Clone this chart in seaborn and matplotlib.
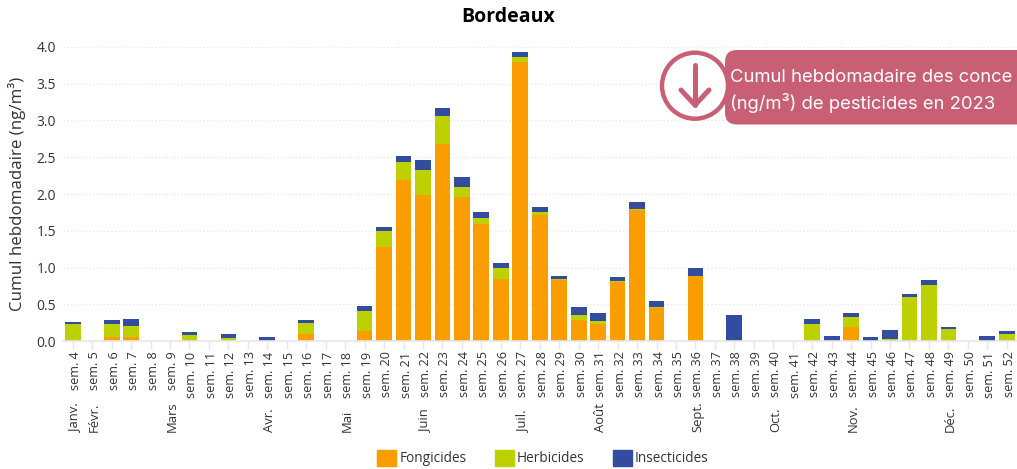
import numpy as np
import pandas as pd
import seaborn as sns
import matplotlib.pyplot as plt
from matplotlib.patches import Patch, Circle, FancyBboxPatch
from matplotlib.lines import Line2D
from matplotlib.transforms import ScaledTranslation

# weeks 4 to 52
weeks = [f"sem. {w}" for w in range(4, 53)]

fongicides = [0, 0, .05, .05, 0, 0, 0, 0, 0, 0, 0, 0, .09, 0, 0, .13, 1.28, 2.19, 1.99, 2.685,
              1.96, 1.59, .85, 3.80, 1.72, .83, .28, .23, .80, 1.78, .445, 0, .89, 0, 0, 0,
              0, 0, 0, 0, .195, 0, 0, 0, 0, 0, 0, 0, 0]
herbicides = [.23, 0, .18, .16, 0, 0, .08, 0, .04, 0, 0, 0, .15, 0, 0, .28, .21, .24, .33, .37,
              .14, .09, .14, .07, .04, .01, .07, .04, .01, .015, .02, 0, 0, 0, 0, 0,
              0, 0, .23, 0, .13, 0, .03, .595, .765, .16, 0, 0, .09]
insecticides = [.03, 0, .055, .09, 0, 0, .04, 0, .05, 0, .06, 0, .045, 0, 0, .065, .065, .09, .14, .11,
                .13, .08, .07, .06, .06, .05, .11, .105, .06, .095, .08, 0, .11, 0, .36, 0,
                0, 0, .065, .07, .06, .055, .115, .04, .06, .025, 0, .07, .045]

month_labels = ["Janv.", "Févr.", "Mars", "Avr.", "Mai", "Juin", "Juil.", "Août", "Sept.", "Oct.", "Nov.", "Déc."]
month_weeks = [4, 5, 9, 14, 18, 22, 27, 31, 36, 40, 44, 49]

ORANGE = "#F99D00"
GREEN = "#BDD000"
BLUE = "#324C9F"
PINK = "#C95F75"
TEXT = "#333333"

W, H = 1017, 469


def px(x, y):
    # pixel position from top left -> figure fraction
    return x / W, 1 - y / H


def main():
    sns.set_theme(style="white")
    plt.rcParams['font.family'] = ['Open Sans', 'DejaVu Sans']

    df = pd.DataFrame({"week": weeks, "f": fongicides, "h": herbicides, "i": insecticides})
    df["fh"] = df["f"] + df["h"]
    df["total"] = df["fh"] + df["i"]

    fig = plt.figure(figsize=(W / 100, H / 100), dpi=100)
    ax = fig.add_axes([63 / W, 1 - 341 / H, (1016.5 - 63) / W, 294 / H])

    # stacked by drawing the cumulated bars back to front
    for col, color in [("total", BLUE), ("fh", GREEN), ("f", ORANGE)]:
        sns.barplot(data=df, x="week", y=col, color=color, saturation=1, width=0.81, linewidth=0, ax=ax)

    ax.set_xlim(-0.5, 48.5)
    ax.set_ylim(0, 4)
    ax.set_yticks(np.arange(0, 4.5, 0.5))
    ax.set_axisbelow(True)
    ax.grid(axis="y", color="#e8e8e8", linestyle=":", linewidth=1)
    sns.despine(ax=ax, left=True)
    ax.spines["bottom"].set_color("#e6e6e6")
    ax.spines["bottom"].set_linewidth(1.2)

    ax.set_xlabel("")
    ax.set_ylabel("Cumul hebdomadaire (ng/m³)", fontsize=12.2, color=TEXT)
    ax.yaxis.set_label_coords((26 - 63) / (1016.5 - 63), 0.5)
    ax.tick_params(axis="y", length=0, labelsize=10, labelcolor=TEXT, pad=5)
    ax.tick_params(axis="x", bottom=True, length=5.5, width=1, color="#e6e6e6", labelsize=9.1, labelcolor=TEXT, pad=2)
    shift = ScaledTranslation(2.5 / 100, 0, fig.dpi_scale_trans)
    for lab in ax.get_xticklabels():
        lab.set_rotation(90)
        lab.set_ha("center")
        lab.set_transform(lab.get_transform() + shift)

    for name, wk in zip(month_labels, month_weeks):
        ax.annotate(name, xy=(wk - 4, 0), xycoords=ax.get_xaxis_transform(), xytext=(2, -91),
                    textcoords="offset pixels", rotation=90, ha="center", va="bottom",
                    fontsize=9.4, color=TEXT)

    fig.text(*px(508, 17), "Bordeaux", ha="center", va="center", fontsize=14, fontweight="bold", color="black")

    handles = [Patch(color=ORANGE, label="Fongicides"), Patch(color=GREEN, label="Herbicides"),
               Patch(color=BLUE, label="Insecticides")]
    fig.legend(handles=handles, ncol=3, loc="center", bbox_to_anchor=px(543, 458), frameon=False,
               fontsize=9.8, handlelength=1.4, handleheight=1.4, handletextpad=0.25, columnspacing=2.05,
               labelcolor=TEXT, borderpad=0, borderaxespad=0)

    # pink banner over the chart
    banner = FancyBboxPatch((725, H - 124.5), 340, 74.5, boxstyle="round,pad=0,rounding_size=12",
                            transform=None, facecolor=PINK, edgecolor="none", zorder=5, clip_on=False)
    fig.add_artist(banner)
    circle = Circle((695, H - 85.7), 33, transform=None, facecolor="white", edgecolor=PINK, linewidth=3.2, zorder=6)
    fig.add_artist(circle)
    for xs, ys in [((695, 695), (65, 105)), ((681, 695, 709), (90, 105, 90))]:
        fig.add_artist(Line2D(xs, [H - y for y in ys], transform=None, color=PINK, linewidth=3.6,
                              solid_capstyle="round", solid_joinstyle="round", zorder=7))
    fig.text(*px(730, 77), "Cumul hebdomadaire des conce", ha="left", va="center", fontsize=13.3,
             family=["Inter", "DejaVu Sans"], color="white", zorder=8)
    fig.text(*px(730, 103), "(ng/m³) de pesticides en 2023", ha="left", va="center", fontsize=13.3,
             family=["Inter", "DejaVu Sans"], color="white", zorder=8)

    fig.savefig("out.png", dpi=100)


if __name__ == "__main__":
    main()
